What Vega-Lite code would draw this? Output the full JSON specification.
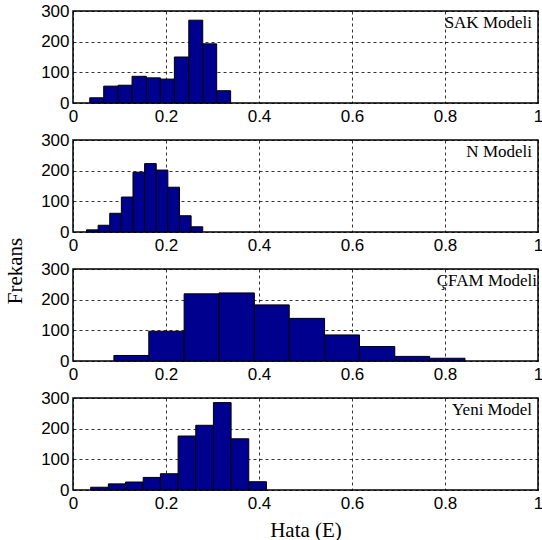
{
  "$schema": "https://vega.github.io/schema/vega-lite/v6.json",
  "background": "white",
  "padding": {"left": 4, "top": 1, "right": 0, "bottom": 0},
  "title": {"text": "Frekans", "orient": "left", "anchor": "middle", "font": "Liberation Serif", "fontSize": 21, "fontWeight": "normal", "color": "black", "offset": 14},
  "datasets": {
    "sak": [
      {"x": 0.036, "x2": 0.066, "count": 17}, {"x": 0.066, "x2": 0.097, "count": 55},
      {"x": 0.097, "x2": 0.127, "count": 58}, {"x": 0.127, "x2": 0.158, "count": 87},
      {"x": 0.158, "x2": 0.188, "count": 82}, {"x": 0.188, "x2": 0.218, "count": 78},
      {"x": 0.218, "x2": 0.249, "count": 150}, {"x": 0.249, "x2": 0.279, "count": 270},
      {"x": 0.279, "x2": 0.309, "count": 193}, {"x": 0.309, "x2": 0.339, "count": 40}
    ],
    "n": [
      {"x": 0.029, "x2": 0.054, "count": 7}, {"x": 0.054, "x2": 0.079, "count": 22},
      {"x": 0.079, "x2": 0.104, "count": 61}, {"x": 0.104, "x2": 0.129, "count": 114},
      {"x": 0.129, "x2": 0.154, "count": 195}, {"x": 0.154, "x2": 0.179, "count": 223},
      {"x": 0.179, "x2": 0.204, "count": 202}, {"x": 0.204, "x2": 0.229, "count": 146},
      {"x": 0.229, "x2": 0.254, "count": 53}, {"x": 0.254, "x2": 0.279, "count": 17}
    ],
    "cfam": [
      {"x": 0.088, "x2": 0.163, "count": 18}, {"x": 0.163, "x2": 0.239, "count": 97},
      {"x": 0.239, "x2": 0.314, "count": 219}, {"x": 0.314, "x2": 0.390, "count": 222},
      {"x": 0.390, "x2": 0.465, "count": 183}, {"x": 0.465, "x2": 0.541, "count": 139},
      {"x": 0.541, "x2": 0.616, "count": 85}, {"x": 0.616, "x2": 0.692, "count": 47},
      {"x": 0.692, "x2": 0.767, "count": 15}, {"x": 0.767, "x2": 0.843, "count": 9}
    ],
    "yeni": [
      {"x": 0.038, "x2": 0.076, "count": 9}, {"x": 0.076, "x2": 0.113, "count": 20},
      {"x": 0.113, "x2": 0.151, "count": 26}, {"x": 0.151, "x2": 0.188, "count": 41},
      {"x": 0.188, "x2": 0.226, "count": 53}, {"x": 0.226, "x2": 0.264, "count": 176},
      {"x": 0.264, "x2": 0.302, "count": 211}, {"x": 0.302, "x2": 0.340, "count": 285},
      {"x": 0.340, "x2": 0.378, "count": 167}, {"x": 0.378, "x2": 0.416, "count": 27}
    ]
  },
  "config": {
    "view": {"stroke": "black", "strokeWidth": 1.5},
    "axis": {
      "labelFont": "Liberation Sans", "labelFontSize": 17, "labelColor": "black",
      "ticks": false, "tickSize": 0, "domain": false, "labelOverlap": false, "labelFlush": false,
      "grid": true, "gridColor": "black", "gridOpacity": 1, "gridDash": [3, 3], "gridWidth": 0.8,
      "titleFont": "Liberation Serif", "titleFontSize": 21, "titleFontWeight": "normal", "titleColor": "black"
    },
    "axisX": {"labelPadding": 5},
    "axisY": {"labelPadding": 4}
  },
  "bounds": "flush",
  "spacing": 37,
  "vconcat": [
    {
      "width": 465, "height": 92,
      "layer": [
        {
          "data": {"name": "sak"},
          "mark": {"type": "rect", "fill": "#00008F", "stroke": "black", "strokeWidth": 1},
          "encoding": {
            "x": {"field": "x", "type": "quantitative", "scale": {"domain": [0, 1]}, "axis": {"values": [0, 0.2, 0.4, 0.6, 0.8, 1], "format": "~g", "title": null}},
            "x2": {"field": "x2"},
            "y": {"field": "count", "type": "quantitative", "scale": {"domain": [0, 300]}, "axis": {"values": [0, 100, 200, 300], "title": null}},
            "y2": {"datum": 0}
          }
        },
        {
          "data": {"values": [{"label": "SAK Modeli"}]},
          "mark": {"type": "text", "align": "right", "baseline": "alphabetic", "dx": -6, "dy": 17, "font": "Liberation Serif", "fontSize": 17, "color": "black"},
          "encoding": {
            "x": {"datum": 1, "type": "quantitative", "axis": {"values": [0, 0.2, 0.4, 0.6, 0.8, 1], "format": "~g", "title": null}},
            "y": {"datum": 300, "type": "quantitative", "axis": {"values": [0, 100, 200, 300], "title": null}},
            "text": {"field": "label"}
          }
        }
      ]
    },
    {
      "width": 465, "height": 92,
      "layer": [
        {
          "data": {"name": "n"},
          "mark": {"type": "rect", "fill": "#00008F", "stroke": "black", "strokeWidth": 1},
          "encoding": {
            "x": {"field": "x", "type": "quantitative", "scale": {"domain": [0, 1]}, "axis": {"values": [0, 0.2, 0.4, 0.6, 0.8, 1], "format": "~g", "title": null}},
            "x2": {"field": "x2"},
            "y": {"field": "count", "type": "quantitative", "scale": {"domain": [0, 300]}, "axis": {"values": [0, 100, 200, 300], "title": null}},
            "y2": {"datum": 0}
          }
        },
        {
          "data": {"values": [{"label": "N Modeli"}]},
          "mark": {"type": "text", "align": "right", "baseline": "alphabetic", "dx": -6, "dy": 17, "font": "Liberation Serif", "fontSize": 17, "color": "black"},
          "encoding": {
            "x": {"datum": 1, "type": "quantitative", "axis": {"values": [0, 0.2, 0.4, 0.6, 0.8, 1], "format": "~g", "title": null}},
            "y": {"datum": 300, "type": "quantitative", "axis": {"values": [0, 100, 200, 300], "title": null}},
            "text": {"field": "label"}
          }
        }
      ]
    },
    {
      "width": 465, "height": 92,
      "layer": [
        {
          "data": {"name": "cfam"},
          "mark": {"type": "rect", "fill": "#00008F", "stroke": "black", "strokeWidth": 1},
          "encoding": {
            "x": {"field": "x", "type": "quantitative", "scale": {"domain": [0, 1]}, "axis": {"values": [0, 0.2, 0.4, 0.6, 0.8, 1], "format": "~g", "title": null}},
            "x2": {"field": "x2"},
            "y": {"field": "count", "type": "quantitative", "scale": {"domain": [0, 300]}, "axis": {"values": [0, 100, 200, 300], "title": null}},
            "y2": {"datum": 0}
          }
        },
        {
          "data": {"values": [{"label": "ÇFAM Modeli"}]},
          "mark": {"type": "text", "align": "right", "baseline": "alphabetic", "dx": -1, "dy": 17, "font": "Liberation Serif", "fontSize": 17, "color": "black"},
          "encoding": {
            "x": {"datum": 1, "type": "quantitative", "axis": {"values": [0, 0.2, 0.4, 0.6, 0.8, 1], "format": "~g", "title": null}},
            "y": {"datum": 300, "type": "quantitative", "axis": {"values": [0, 100, 200, 300], "title": null}},
            "text": {"field": "label"}
          }
        }
      ]
    },
    {
      "width": 465, "height": 92,
      "layer": [
        {
          "data": {"name": "yeni"},
          "mark": {"type": "rect", "fill": "#00008F", "stroke": "black", "strokeWidth": 1},
          "encoding": {
            "x": {"field": "x", "type": "quantitative", "scale": {"domain": [0, 1]}, "axis": {"values": [0, 0.2, 0.4, 0.6, 0.8, 1], "format": "~g", "title": "Hata (E)", "titlePadding": 8}},
            "x2": {"field": "x2"},
            "y": {"field": "count", "type": "quantitative", "scale": {"domain": [0, 300]}, "axis": {"values": [0, 100, 200, 300], "title": null}},
            "y2": {"datum": 0}
          }
        },
        {
          "data": {"values": [{"label": "Yeni Model"}]},
          "mark": {"type": "text", "align": "right", "baseline": "alphabetic", "dx": -6, "dy": 17, "font": "Liberation Serif", "fontSize": 17, "color": "black"},
          "encoding": {
            "x": {"datum": 1, "type": "quantitative", "axis": {"values": [0, 0.2, 0.4, 0.6, 0.8, 1], "format": "~g", "title": "Hata (E)", "titlePadding": 8}},
            "y": {"datum": 300, "type": "quantitative", "axis": {"values": [0, 100, 200, 300], "title": null}},
            "text": {"field": "label"}
          }
        }
      ]
    }
  ]
}
